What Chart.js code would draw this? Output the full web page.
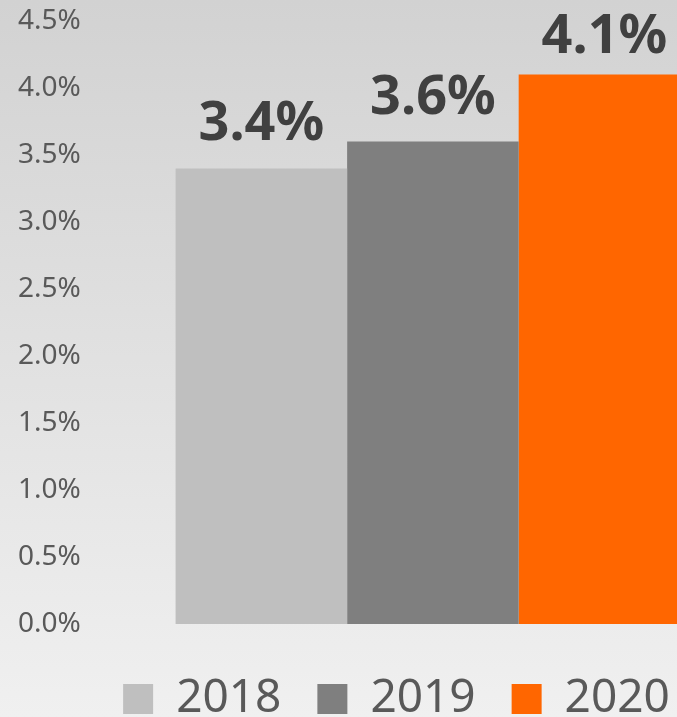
<!DOCTYPE html>
<html>
<head>
<meta charset="utf-8">
<script src="https://cdn.jsdelivr.net/npm/chart.js@4"></script>
<style>
  html, body { margin: 0; padding: 0; overflow: hidden; }
  body { width: 677px; height: 717px; background: linear-gradient(to bottom, #d2d2d2, #f0f0f0); }
  #wrap { width: 822px; height: 734px; }
</style>
</head>
<body>
<div id="wrap"><canvas id="chart"></canvas></div>
<script>
const categories = [''];
const years = ['2018', '2019', '2020'];
const values = [3.4, 3.6, 4.1];
const colors = ['#bfbfbf', '#7f7f7f', '#ff6600'];
const yTicks = [0, 0.5, 1, 1.5, 2, 2.5, 3, 3.5, 4, 4.5];

// value labels above the bars (no datalabels plugin offline)
const valueLabels = {
  id: 'valueLabels',
  afterDatasetsDraw(chart) {
    const ctx = chart.ctx;
    ctx.save();
    ctx.font = 'bold 54px "Noto Sans"';
    ctx.fillStyle = '#404040';
    ctx.textAlign = 'center';
    ctx.textBaseline = 'alphabetic';
    chart.data.datasets.forEach((ds, i) => {
      const bar = chart.getDatasetMeta(i).data[0];
      const y = Math.max(bar.y - 28, 53);
      ctx.fillText(ds.data[0].toFixed(1) + '%', bar.x, y);
    });
    ctx.restore();
  }
};

new Chart(document.getElementById('chart'), {
  type: 'bar',
  data: {
    labels: categories,
    datasets: years.map((y, i) => ({
      label: y,
      data: [values[i]],
      backgroundColor: colors[i],
      categoryPercentage: 0.75,
      barPercentage: 1
    }))
  },
  options: {
    responsive: true,
    maintainAspectRatio: false,
    animation: false,
    layout: { padding: { left: 17, right: 46, top: 21, bottom: 2 } },
    plugins: {
      legend: {
        position: 'bottom',
        labels: {
          boxWidth: 30,
          boxHeight: 30,
          padding: 36,
          color: '#595959',
          font: { family: '"Noto Sans"', size: 46 }
        }
      },
      tooltip: { enabled: false }
    },
    scales: {
      x: {
        ticks: { display: false },
        grid: { display: false },
        border: { display: false },
        afterFit: axis => { axis.height = 16; }
      },
      y: {
        min: 0,
        max: 4.5,
        afterBuildTicks: axis => { axis.ticks = yTicks.map(v => ({ value: v })); },
        grid: { display: false },
        border: { display: false },
        ticks: {
          color: '#595959',
          padding: 1,
          font: { family: '"Noto Sans"', size: 28 },
          callback: v => v.toFixed(1) + '%'
        }
      }
    }
  },
  plugins: [valueLabels]
});
</script>
</body>
</html>
